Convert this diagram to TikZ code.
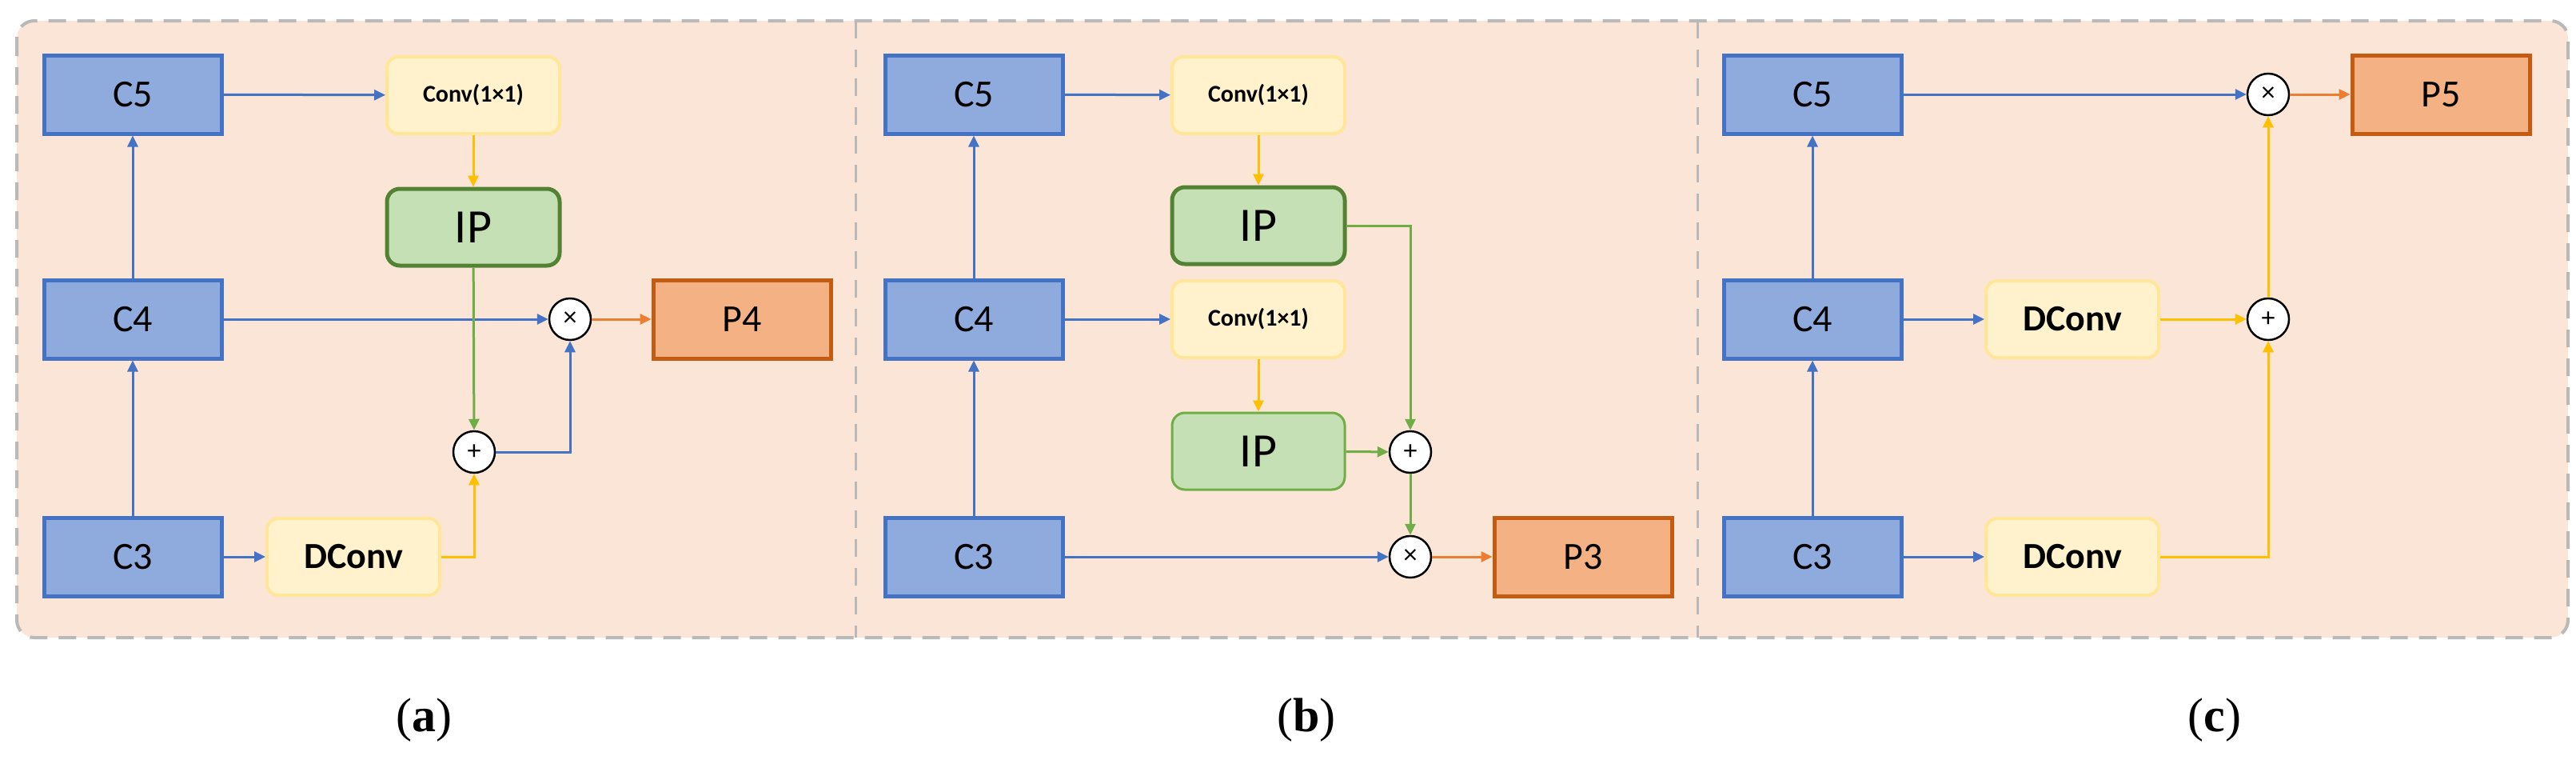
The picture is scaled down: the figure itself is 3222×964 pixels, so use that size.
\documentclass[tikz,border=0pt]{standalone}
\usepackage{fontspec}
\setmainfont{Carlito}
\newfontfamily\lab{Liberation Serif}
\usetikzlibrary{arrows.meta}
\definecolor{bg}{HTML}{FBE5D6}
\definecolor{cfill}{HTML}{8FAADC}
\definecolor{cline}{HTML}{4472C4}
\definecolor{yfill}{HTML}{FFF2CC}
\definecolor{yline}{HTML}{FFE699}
\definecolor{yarr}{HTML}{FFC000}
\definecolor{gfill}{HTML}{C5E0B4}
\definecolor{gline}{HTML}{548235}
\definecolor{garr}{HTML}{70AD47}
\definecolor{pfill}{HTML}{F4B183}
\definecolor{pline}{HTML}{C55A11}
\definecolor{oarr}{HTML}{ED7D31}
\begin{document}
\begin{tikzpicture}[x=1pt,y=-1pt,
 cbox/.style={draw=cline,fill=cfill,line width=5pt,minimum width=222pt,minimum height=98pt,font=\fontsize{48}{50}\selectfont},
 conv/.style={draw=yline,fill=yfill,line width=4pt,rounded corners=14pt,minimum width=216pt,minimum height=96pt,font=\bfseries\fontsize{30}{32}\selectfont},
 dconv/.style={conv,font=\bfseries\fontsize{46}{48}\selectfont},
 ip/.style={draw=gline,fill=gfill,line width=5pt,rounded corners=16pt,minimum width=216pt,minimum height=96pt,font=\fontsize{60}{62}\selectfont},
 ipl/.style={ip,draw=garr,line width=3pt},
 pbox/.style={draw=pline,fill=pfill,line width=5pt,minimum width=222pt,minimum height=98pt,font=\fontsize{48}{50}\selectfont},
 op/.style={circle,draw=black,fill=white,line width=2.5pt,minimum size=52pt,inner sep=0pt,font=\fontsize{34}{34}\selectfont},
 ar/.style={line width=3pt,-{Triangle[length=14pt,width=13pt]}},
 ba/.style={ar,draw=cline},
 ya/.style={ar,draw=yarr},
 ga/.style={ar,draw=garr},
 oa/.style={ar,draw=oarr},
 sub/.style={font=\lab\fontsize{60}{62}\selectfont}]
\useasboundingbox (0,0) rectangle (3222,964);
\draw[fill=bg,draw=gray!55,line width=4pt,dash pattern=on 22pt off 14pt,rounded corners=22pt] (21,26) rectangle (3212,797);
\draw[gray!55,line width=3pt,dash pattern=on 22pt off 14pt] (1070,26) -- (1070,797);
\draw[gray!55,line width=3pt,dash pattern=on 22pt off 14pt] (2123,26) -- (2123,797);
% panel a
\node[cbox] (a5) at (166,118) {C5};
\node[cbox] (a4) at (166,399) {C4};
\node[cbox] (a3) at (166,696) {C3};
\node[conv] (ac) at (592,119) {Conv(1×1)};
\node[ip] (aip) at (592,284) {IP};
\node[op] (am) at (713,399) {×};
\node[op] (aa) at (593,565) {+};
\node[pbox] (ap4) at (928,399) {P4};
\node[dconv] (ad) at (442,696) {DConv};
\draw[ba] (a3) -- (a4);
\draw[ba] (a4) -- (a5);
\draw[ba] (a5) -- (ac);
\draw[ya] (ac) -- (aip);
\draw[ba] (a4) -- (am);
\draw[ga] (aip) -- (aa);
\draw[ba] (a3) -- (ad);
\draw[ya] (ad.east) -| (aa.south);
\draw[ba] (aa.east) -| (am.south);
\draw[oa] (am) -- (ap4);
% panel b
\node[cbox] (b5) at (1218,118) {C5};
\node[cbox] (b4) at (1218,399) {C4};
\node[cbox] (b3) at (1218,696) {C3};
\node[conv] (bc1) at (1574,119) {Conv(1×1)};
\node[ip] (bip1) at (1574,282) {IP};
\node[conv] (bc2) at (1574,399) {Conv(1×1)};
\node[ipl] (bip2) at (1574,564) {IP};
\node[op] (ba) at (1764,565) {+};
\node[op] (bm) at (1764,696) {×};
\node[pbox] (bp3) at (1980,696) {P3};
\draw[ba] (b3) -- (b4);
\draw[ba] (b4) -- (b5);
\draw[ba] (b5) -- (bc1);
\draw[ba] (b4) -- (bc2);
\draw[ya] (bc1) -- (bip1);
\draw[ya] (bc2) -- (bip2);
\draw[ga] (bip1.east) -| (ba.north);
\draw[ga] (bip2) -- (ba);
\draw[ga] (ba) -- (bm);
\draw[ba] (b3) -- (bm);
\draw[oa] (bm) -- (bp3);
% panel c
\node[cbox] (c5) at (2267,118) {C5};
\node[cbox] (c4) at (2267,399) {C4};
\node[cbox] (c3) at (2267,696) {C3};
\node[dconv] (cd1) at (2592,399) {DConv};
\node[dconv] (cd2) at (2592,696) {DConv};
\node[op] (cm) at (2837,118) {×};
\node[op] (ca) at (2837,399) {+};
\node[pbox] (cp5) at (3053,118) {P5};
\draw[ba] (c3) -- (c4);
\draw[ba] (c4) -- (c5);
\draw[ba] (c5) -- (cm);
\draw[ba] (c4) -- (cd1);
\draw[ba] (c3) -- (cd2);
\draw[ya] (cd1) -- (ca);
\draw[ya] (cd2.east) -| (ca.south);
\draw[ya] (ca) -- (cm);
\draw[oa] (cm) -- (cp5);
% labels
\node[sub] (la) at (530,900) {(\textbf{a})};
\node[sub] (lb) at (1634,900) {(\textbf{b})};
\node[sub] (lc) at (2770,900) {(\textbf{c})};
\end{tikzpicture}
\end{document}
